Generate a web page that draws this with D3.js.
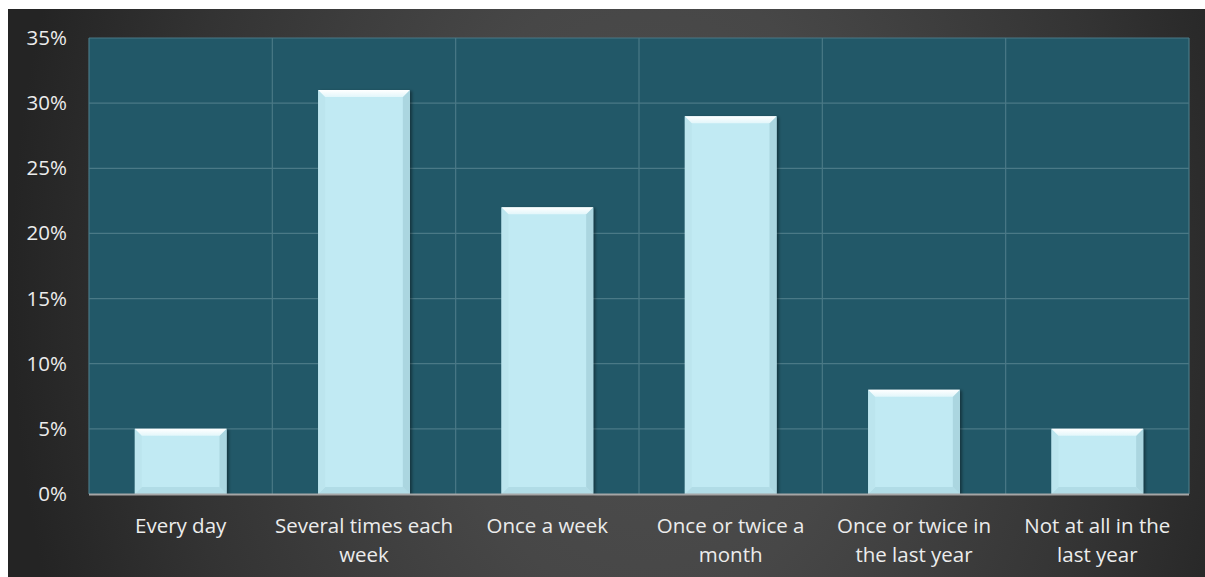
<!DOCTYPE html>
<html><head><meta charset="utf-8">
<script src="https://cdn.jsdelivr.net/npm/d3@7"></script>
<style>html,body{margin:0;padding:0;background:#fff;}svg{display:block;}</style>
</head><body>
<svg id="c" width="1205" height="577"></svg>
<script>
const categories = ["Every day","Several times each week","Once a week","Once or twice a month","Once or twice in the last year","Not at all in the last year"];
const categoryLines = [["Every day"],["Several times each","week"],["Once a week"],["Once or twice a","month"],["Once or twice in","the last year"],["Not at all in the","last year"]];
const values = [0.05,0.31,0.22,0.29,0.08,0.05];
const yTicks = [0,0.05,0.10,0.15,0.20,0.25,0.30,0.35];

const svg = d3.select("#c");
const defs = svg.append("defs");
const bg = defs.append("radialGradient").attr("id","bg").attr("gradientUnits","userSpaceOnUse")
  .attr("cx",650).attr("cy",290).attr("r",640)
  .attr("gradientTransform","translate(650,290) scale(1,1.4) translate(-650,-290)");
bg.append("stop").attr("offset","0").attr("stop-color","#4f4f4f");
bg.append("stop").attr("offset","0.35").attr("stop-color","#474747");
bg.append("stop").attr("offset","0.75").attr("stop-color","#333333");
bg.append("stop").attr("offset","1").attr("stop-color","#242424");
const tg = defs.append("linearGradient").attr("id","topb").attr("x1",0).attr("y1",0).attr("x2",0).attr("y2",1);
tg.append("stop").attr("offset","0").attr("stop-color","#ffffff");
tg.append("stop").attr("offset","1").attr("stop-color","#e2f6fa");
const sh = defs.append("filter").attr("id","shadow").attr("x","-10%").attr("y","-10%").attr("width","130%").attr("height","120%");
sh.append("feDropShadow").attr("dx",2).attr("dy",1).attr("stdDeviation",1.5).attr("flood-color","#000").attr("flood-opacity",0.4);

svg.append("rect").attr("x",8).attr("y",9).attr("width",1197).attr("height",568).attr("fill","url(#bg)");

const m = {l:89, r:1189, t:38, b:494};
const x = d3.scaleBand().domain(categories).range([m.l,m.r]).paddingInner(0.5).paddingOuter(0.25);
const xOuter = d3.scaleBand().domain(categories).range([m.l,m.r]);
const y = d3.scaleLinear().domain([0,0.35]).range([m.b,m.t]);

svg.append("rect").attr("x",m.l).attr("y",m.t).attr("width",m.r-m.l).attr("height",m.b-m.t).attr("fill","#225868");

// grid
const g = svg.append("g");
const gc = "#4a7986";
g.selectAll("line.h").data(yTicks.slice(1)).join("line")
  .attr("x1",m.l).attr("x2",m.r).attr("y1",d=>y(d)).attr("y2",d=>y(d))
  .attr("stroke",gc).attr("stroke-width",1.2);
g.selectAll("line.v").data(categories.slice(1)).join("line")
  .attr("x1",d=>xOuter(d)).attr("x2",d=>xOuter(d)).attr("y1",m.t).attr("y2",m.b)
  .attr("stroke",gc).attr("stroke-width",1.2);
g.append("line").attr("x1",m.l).attr("x2",m.l).attr("y1",m.t).attr("y2",m.b).attr("stroke",gc).attr("stroke-width",1.2);
g.append("line").attr("x1",m.r).attr("x2",m.r).attr("y1",m.t).attr("y2",m.b).attr("stroke",gc).attr("stroke-width",1.2);

// bars
const b = 7;
const bars = svg.append("g").selectAll("g").data(values).join("g").attr("filter","url(#shadow)");
bars.each(function(v,i){
  const x0 = x(categories[i]), x1 = x0 + x.bandwidth(), y0 = y(v), y1 = y(0);
  const s = d3.select(this);
  s.append("rect").attr("x",x0).attr("y",y0).attr("width",x1-x0).attr("height",y1-y0).attr("fill","#c1eaf3");
  const poly = (pts,fill)=>s.append("polygon").attr("points",pts.map(p=>p.join(",")).join(" ")).attr("fill",fill);
  poly([[x0,y1],[x0+b,y1-b],[x1-b,y1-b],[x1,y1]],"#b1dce6");
  poly([[x0,y0],[x0+b,y0+b],[x0+b,y1-b],[x0,y1]],"#bce5ee");
  poly([[x1,y0],[x1,y1],[x1-b,y1-b],[x1-b,y0+b]],"#abd6e0");
  poly([[x0,y0],[x1,y0],[x1-b,y0+b],[x0+b,y0+b]],"url(#topb)");
});

// axis line
svg.append("line").attr("x1",m.l).attr("x2",m.r).attr("y1",m.b+0.5).attr("y2",m.b+0.5).attr("stroke","#a6a6a6").attr("stroke-width",2);

const font = "'Open Sans', sans-serif";
// y labels
const yAxis = d3.axisLeft(y).tickValues(yTicks).tickFormat(d3.format(".0%")).tickSize(0).tickPadding(22);
const ya = svg.append("g").attr("transform",`translate(${m.l},0)`).call(yAxis);
ya.select(".domain").remove();
ya.selectAll("text").attr("fill","#ececec").attr("font-family",font).attr("font-size",20.5);

// x labels
const xl = svg.append("g");
categoryLines.forEach((lines,i)=>{
  const cx = xOuter(categories[i]) + xOuter.bandwidth()/2;
  const t = xl.append("text").attr("x",cx).attr("y",533).attr("text-anchor","middle")
    .attr("fill","#ececec").attr("font-family",font).attr("font-size",20.5);
  lines.forEach((ln,j)=>t.append("tspan").attr("x",cx).attr("dy",j===0?0:29).text(ln));
});
</script>
</body></html>
